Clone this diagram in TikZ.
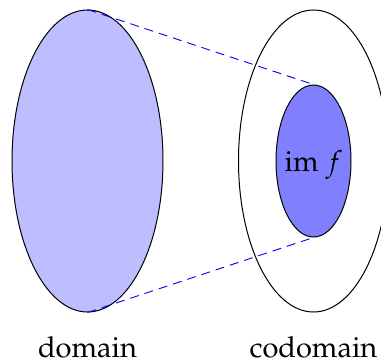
\documentclass[tikz,border=0pt]{standalone}
\usepackage[T1]{fontenc}
\usepackage{mathpazo}
\usetikzlibrary{shapes.geometric}
\tikzset{
  dom/.style={ellipse, draw=black, fill=blue!26, minimum width=151pt, minimum height=302pt, inner sep=0pt},
  codom/.style={ellipse, draw=black, minimum width=150pt, minimum height=302pt, inner sep=0pt},
  img/.style={ellipse, draw=black, fill=blue!50, minimum width=75pt, minimum height=152pt, inner sep=0pt},
  lab/.style={font=\fontsize{29}{34}\selectfont, inner sep=0pt},
  proj/.style={blue, dash pattern=on 9pt off 6pt, line width=0.9pt}
}
\begin{document}
\begin{tikzpicture}[x=1pt,y=-1pt, line width=1pt]
\useasboundingbox (0,0) rectangle (381,364);
\begin{scope}
\clip (0,0) rectangle (381,364);
\node[dom] (A) at (87.5,161) {};
\node[codom] (B) at (313.5,161) {};
\node[img] (C) at (313.5,161) {};
\node[lab, anchor=base] (imf) at (313.5,171) {im $f$};
\draw[proj] (A.north) -- (C.north);
\draw[proj] (A.south) -- (C.south);
\node[lab, anchor=base] (dl) at (87.5,357) {domain};
\node[lab, anchor=base] (cl) at (313.5,357) {codomain};
\end{scope}
\end{tikzpicture}
\end{document}
